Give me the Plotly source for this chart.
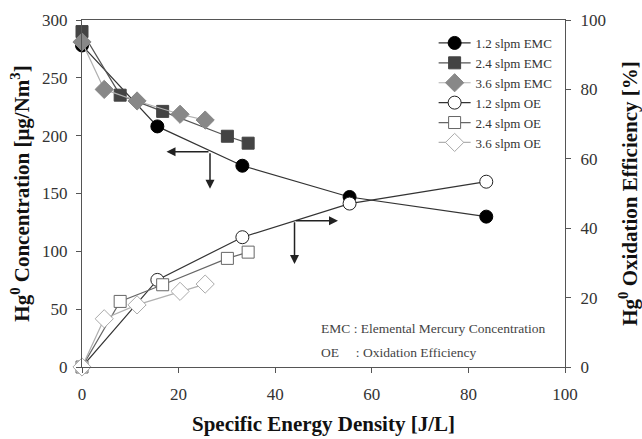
import plotly.graph_objects as go

# x values (Specific Energy Density, J/L)
x_12 = [0, 15.6, 33.2, 55.4, 83.7]
x_24 = [0, 7.9, 16.7, 30.1, 34.4]
x_36 = [0, 4.6, 11.4, 20.3, 25.5]

# Elemental mercury concentration (µg/Nm3)
emc_12 = [278, 208, 174, 147, 130]
emc_24 = [290, 235, 221, 199.5, 193.5]
emc_36 = [281, 240, 230, 218.5, 213.5]

# Oxidation efficiency (%)
oe_12 = [0, 25.1, 37.4, 47.1, 53.4]
oe_24 = [0, 18.9, 23.7, 31.3, 33.1]
oe_36 = [0, 13.9, 17.9, 21.8, 23.9]

FONT = "Liberation Serif"
fig = go.Figure()

def add(x, y, name, lc, mc, mlc, sym, size, yaxis):
    fig.add_trace(go.Scatter(
        x=x, y=y, name=name, mode="lines+markers", yaxis=yaxis, cliponaxis=False,
        line=dict(color=lc, width=1.2),
        marker=dict(symbol=sym, size=size, color=mc, line=dict(color=mlc, width=1)),
    ))

add(x_12, emc_12, "1.2 slpm EMC", "#333333", "#000000", "#000000", "circle", 13, "y")
add(x_24, emc_24, "2.4 slpm EMC", "#555555", "#444444", "#444444", "square", 12, "y")
add(x_36, emc_36, "3.6 slpm EMC", "#b0b0b0", "#888888", "#888888", "diamond", 14, "y")
add(x_12, oe_12, "1.2 slpm OE", "#333333", "#ffffff", "#222222", "circle", 13, "y2")
add(x_24, oe_24, "2.4 slpm OE", "#666666", "#ffffff", "#666666", "square", 12, "y2")
add(x_36, oe_36, "3.6 slpm OE", "#b0b0b0", "#ffffff", "#aaaaaa", "diamond", 14, "y2")

tickfont = dict(family=FONT, size=17, color="#333333")
titlefont = dict(family=FONT, size=21, color="#111111")

fig.update_layout(
    width=642, height=439,
    margin=dict(l=82, r=77, t=20, b=72, autoexpand=False),
    paper_bgcolor="white", plot_bgcolor="white",
    font=dict(family=FONT),
    xaxis=dict(range=[0, 100], dtick=20, showgrid=False, zeroline=False,
               showline=True, linecolor="#555555", mirror=True, automargin=False,
               ticks="outside", ticklen=5, tickcolor="#555555",
               tickfont=tickfont, ticklabelstandoff=7,
               title=dict(text="<b>Specific Energy Density [J/L]</b>", font=titlefont, standoff=12)),
    yaxis=dict(range=[0, 300], dtick=50, showgrid=False, zeroline=False,
               showline=True, linecolor="#555555", automargin=False,
               ticks="outside", ticklen=5, tickcolor="#555555",
               tickfont=tickfont, ticklabelstandoff=5,
               title=dict(text="<b>Hg<sup>0</sup> Concentration [μg/Nm<sup>3</sup>]</b>", font=titlefont, standoff=6)),
    yaxis2=dict(range=[0, 100], dtick=20, overlaying="y", side="right",
                showgrid=False, zeroline=False, showline=True, linecolor="#555555", automargin=False,
                ticks="outside", ticklen=5, tickcolor="#555555",
                tickfont=tickfont, ticklabelstandoff=6,
                title=dict(text="<b>Hg<sup>0</sup> Oxidation Efficiency [%]</b>", font=titlefont, standoff=22)),
    legend=dict(x=0.728, y=0.977, xanchor="left", yanchor="top",
                bgcolor="rgba(0,0,0,0)", font=dict(family=FONT, size=13, color="#333333"),
                itemwidth=32, tracegroupgap=0),
    showlegend=True,
)

# arrows
def arrow(x0, y0, x1, y1):
    fig.add_annotation(x=x1, y=y1, ax=x0, ay=y0, xref="x", yref="y", axref="x", ayref="y",
                       showarrow=True, arrowhead=2, arrowsize=1.2, arrowwidth=1.5,
                       arrowcolor="#222222", text="")

arrow(26.5, 186, 17.5, 186)
arrow(26.5, 186, 26.5, 154)
arrow(44, 126.5, 53, 126.5)
arrow(44, 126.5, 44, 89)

fig.add_annotation(x=0.49, y=0.112, xref="paper", yref="paper", xanchor="left", yanchor="middle",
                   showarrow=False, text="EMC : Elemental Mercury Concentration",
                   font=dict(family=FONT, size=13.5, color="#444444"))
fig.add_annotation(x=0.49, y=0.043, xref="paper", yref="paper", xanchor="left", yanchor="middle",
                   showarrow=False, text="OE&nbsp;&nbsp;&nbsp;&nbsp;&nbsp;: Oxidation Efficiency",
                   font=dict(family=FONT, size=13.5, color="#444444"))

fig.write_html("out.html")
